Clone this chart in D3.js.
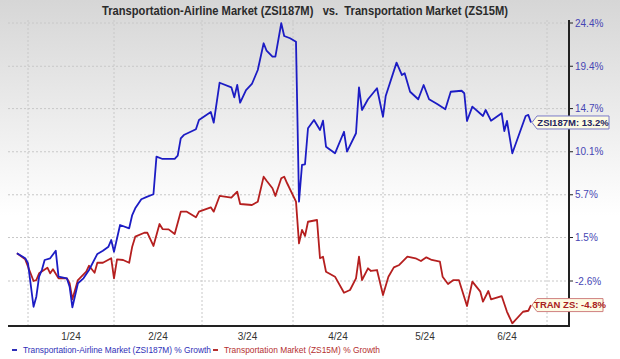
<!DOCTYPE html>
<html>
<head>
<meta charset="utf-8">
<title>Transportation-Airline vs Transportation</title>
<script src="https://cdn.jsdelivr.net/npm/d3@7"></script>
<style>
  body { margin: 0; background: #fff; }
  text { font-family: "Liberation Sans", Arial, sans-serif; }
</style>
</head>
<body>
<div id="chart"></div>
<script>
// % growth
var airlineSeries = [
  ["2023-12-28", 0.0], ["2023-12-31", -0.48], ["2024-01-01", -0.95], ["2024-01-03", -4.95],
  ["2024-01-04", -4.04], ["2024-01-05", -2.20], ["2024-01-06", -1.58], ["2024-01-07", -0.64],
  ["2024-01-09", -0.48], ["2024-01-11", 0.24], ["2024-01-12", -2.20], ["2024-01-15", -2.35],
  ["2024-01-16", -3.13], ["2024-01-17", -5.00], ["2024-01-19", -2.81], ["2024-01-21", -2.35],
  ["2024-01-23", -1.58], ["2024-01-26", -0.07], ["2024-01-28", 0.24], ["2024-01-30", 0.62],
  ["2024-01-31", 1.26], ["2024-02-01", 0.14], ["2024-02-03", 2.71], ["2024-02-06", 2.39],
  ["2024-02-07", 3.69], ["2024-02-08", 4.35], ["2024-02-10", 5.25], ["2024-02-12", 5.51],
  ["2024-02-14", 5.75], ["2024-02-15", 9.59], ["2024-02-17", 9.35], ["2024-02-21", 9.35],
  ["2024-02-22", 9.69], ["2024-02-23", 11.51], ["2024-02-24", 11.86], ["2024-02-28", 12.47],
  ["2024-02-29", 13.47], ["2024-03-04", 14.33], ["2024-03-05", 13.18], ["2024-03-07", 17.55],
  ["2024-03-11", 17.04], ["2024-03-12", 15.94], ["2024-03-13", 17.30], ["2024-03-14", 15.34],
  ["2024-03-16", 16.74], ["2024-03-18", 17.41], ["2024-03-20", 18.98], ["2024-03-22", 22.03],
  ["2024-03-23", 21.17], ["2024-03-25", 20.49], ["2024-03-26", 20.49], ["2024-03-28", 24.37],
  ["2024-03-29", 22.88], ["2024-03-31", 22.61], ["2024-04-02", 22.21], ["2024-04-03", 5.01],
  ["2024-04-04", 8.73], ["2024-04-05", 8.80], ["2024-04-06", 12.58], ["2024-04-08", 13.47],
  ["2024-04-10", 12.40], ["2024-04-11", 13.39], ["2024-04-12", 10.63], ["2024-04-15", 9.94],
  ["2024-04-18", 12.21], ["2024-04-19", 10.11], ["2024-04-22", 12.05], ["2024-04-23", 17.04],
  ["2024-04-24", 14.55], ["2024-04-26", 15.72], ["2024-04-29", 16.93], ["2024-05-01", 13.82],
  ["2024-05-02", 16.08], ["2024-05-06", 19.81], ["2024-05-08", 18.41], ["2024-05-09", 18.61],
  ["2024-05-11", 16.55], ["2024-05-14", 15.72], ["2024-05-16", 17.30], ["2024-05-18", 15.72],
  ["2024-05-21", 15.20], ["2024-05-24", 14.62], ["2024-05-26", 16.55], ["2024-05-30", 16.66],
  ["2024-05-31", 16.38], ["2024-06-01", 13.36], ["2024-06-03", 14.91], ["2024-06-07", 13.90],
  ["2024-06-08", 14.55], ["2024-06-10", 13.39], ["2024-06-14", 14.19], ["2024-06-15", 12.29],
  ["2024-06-16", 13.36], ["2024-06-18", 9.94], ["2024-06-23", 13.90], ["2024-06-24", 14.01],
  ["2024-06-25", 13.2]
];

var transportSeries = [
  ["2023-12-28", 0.0], ["2023-12-31", -0.58], ["2024-01-03", -2.60], ["2024-01-04", -2.51],
  ["2024-01-05", -1.89], ["2024-01-08", -1.36], ["2024-01-09", -1.89], ["2024-01-10", -1.51],
  ["2024-01-12", -2.35], ["2024-01-15", -2.35], ["2024-01-16", -2.81], ["2024-01-17", -4.28],
  ["2024-01-19", -2.51], ["2024-01-22", -1.74], ["2024-01-23", -1.18], ["2024-01-25", -1.83],
  ["2024-01-26", -0.90], ["2024-01-28", -0.90], ["2024-01-31", -0.48], ["2024-02-01", -2.35],
  ["2024-02-02", -0.58], ["2024-02-04", -0.64], ["2024-02-06", -0.90], ["2024-02-07", 0.62],
  ["2024-02-08", 1.58], ["2024-02-11", 1.96], ["2024-02-12", 1.96], ["2024-02-14", 0.69],
  ["2024-02-16", 2.81], ["2024-02-17", 2.32], ["2024-02-19", 2.29], ["2024-02-21", 1.84],
  ["2024-02-23", 4.02], ["2024-02-25", 4.02], ["2024-02-28", 3.46], ["2024-02-29", 4.02],
  ["2024-03-04", 4.45], ["2024-03-05", 4.02], ["2024-03-07", 5.58], ["2024-03-11", 5.41],
  ["2024-03-13", 6.01], ["2024-03-14", 4.78], ["2024-03-18", 4.68], ["2024-03-20", 5.01],
  ["2024-03-22", 7.53], ["2024-03-23", 7.12], ["2024-03-25", 6.35], ["2024-03-26", 5.58],
  ["2024-03-28", 7.36], ["2024-03-29", 7.53], ["2024-03-30", 6.86], ["2024-04-02", 5.01],
  ["2024-04-03", 0.94], ["2024-04-04", 2.23], ["2024-04-05", 1.65], ["2024-04-06", 3.03],
  ["2024-04-09", 3.20], ["2024-04-10", -0.48], ["2024-04-11", -0.33], ["2024-04-12", -1.74],
  ["2024-04-15", -2.20], ["2024-04-18", -3.68], ["2024-04-20", -3.43], ["2024-04-22", -2.35],
  ["2024-04-23", -0.33], ["2024-04-24", -2.51], ["2024-04-26", -1.42], ["2024-04-27", -1.67],
  ["2024-04-29", -1.58], ["2024-05-01", -3.89], ["2024-05-03", -2.20], ["2024-05-05", -1.33],
  ["2024-05-07", -1.11], ["2024-05-10", -0.33], ["2024-05-13", -0.48], ["2024-05-15", -0.74],
  ["2024-05-17", -0.39], ["2024-05-19", -0.64], ["2024-05-22", -0.80], ["2024-05-23", -2.20],
  ["2024-05-25", -2.88], ["2024-05-27", -2.51], ["2024-05-29", -2.51], ["2024-06-01", -4.88],
  ["2024-06-03", -2.66], ["2024-06-06", -3.58], ["2024-06-07", -4.49], ["2024-06-09", -3.52],
  ["2024-06-10", -4.28], ["2024-06-14", -3.98], ["2024-06-16", -5.40], ["2024-06-18", -6.43],
  ["2024-06-22", -5.40], ["2024-06-24", -5.31], ["2024-06-25", -4.8]
];

var yTickValues = [24.4, 19.4, 14.7, 10.1, 5.7, 1.5, -2.6];
var yTickLabels = ["24.4%", "19.4%", "14.7%", "10.1%", "5.7%", "1.5%", "-2.6%"];
var monthStarts = ["2024-01-01", "2024-02-01", "2024-03-01", "2024-04-01", "2024-05-01", "2024-06-01", "2024-07-01"];
var monthLabels = ["1/24", "2/24", "3/24", "4/24", "5/24", "6/24"];
var seriesNames = ["Transportation-Airline Market (ZSI187M) % Growth", "Transportation Market (ZS15M) % Growth"];
var calloutLabels = ["ZSI187M: 13.2%", "TRAN ZS: -4.8%"];

var width = 620,
    height = 359,
    plotTop = 20,
    plotBottom = 326,
    plotLeft = 8,
    axisX = 569;

var parse = d3.timeParse("%Y-%m-%d");

var svg = d3.select("#chart").append("svg")
    .attr("width", width)
    .attr("height", height);

// grey fade at the top
var grad = svg.append("defs").append("linearGradient")
    .attr("id", "bg").attr("x1", 0).attr("y1", 0).attr("x2", 0).attr("y2", 1);
grad.append("stop").attr("offset", "0%").attr("stop-color", "#d6d6d6");
grad.append("stop").attr("offset", "60%").attr("stop-color", "#ffffff");
svg.append("rect").attr("width", width).attr("height", height).attr("fill", "url(#bg)");

// the chart axis is log of (1 + growth)
var y = d3.scaleLog()
    .domain([1 + yTickValues[6] / 100, 1 + yTickValues[0] / 100])
    .range([281, 23]);
function yv(v) { return y(1 + v / 100); }

// month widths in the original are uneven, so map each month start
var x = d3.scaleTime()
    .domain(monthStarts.map(parse))
    .range([28, 114, 202, 293, 383, 467, 547]);

// grid
svg.append("g").selectAll("line")
    .data(yTickValues).enter().append("line")
    .attr("x1", plotLeft).attr("x2", axisX)
    .attr("y1", function(d) { return yv(d); })
    .attr("y2", function(d) { return yv(d); })
    .attr("stroke", "#c8c8c8")
    .attr("stroke-dasharray", "2,2");

svg.append("g").selectAll("line")
    .data(monthStarts).enter().append("line")
    .attr("x1", function(d) { return x(parse(d)); })
    .attr("x2", function(d) { return x(parse(d)); })
    .attr("y1", plotTop).attr("y2", plotBottom)
    .attr("stroke", "#c8c8c8")
    .attr("stroke-dasharray", "2,2");

// lines
var line = d3.line()
    .x(function(d) { return x(parse(d[0])); })
    .y(function(d) { return yv(d[1]); });

svg.append("path").datum(transportSeries)
    .attr("d", line)
    .attr("fill", "none")
    .attr("stroke", "#b51f1f")
    .attr("stroke-width", 1.8)
    .attr("stroke-linejoin", "round");

svg.append("path").datum(airlineSeries)
    .attr("d", line)
    .attr("fill", "none")
    .attr("stroke", "#1c1cc4")
    .attr("stroke-width", 1.8)
    .attr("stroke-linejoin", "round");

// axes frame
svg.append("line")
    .attr("x1", plotLeft).attr("x2", axisX + 1)
    .attr("y1", plotBottom).attr("y2", plotBottom)
    .attr("stroke", "#222").attr("stroke-width", 2);
svg.append("line")
    .attr("x1", axisX).attr("x2", axisX)
    .attr("y1", plotTop).attr("y2", plotBottom)
    .attr("stroke", "#222").attr("stroke-width", 2);

// right axis ticks + labels
var yt = svg.append("g").selectAll("g")
    .data(yTickValues).enter().append("g")
    .attr("transform", function(d) { return "translate(" + axisX + "," + yv(d) + ")"; });
yt.append("line").attr("x1", 0).attr("x2", 4).attr("stroke", "#222");
yt.append("text")
    .attr("x", 6).attr("dy", "0.35em")
    .attr("font-size", 10)
    .attr("fill", "#4646b4")
    .text(function(d, i) { return yTickLabels[i]; });

// month labels, centred in each month
svg.append("g").selectAll("text")
    .data(monthLabels).enter().append("text")
    .attr("x", function(d, i) { return (x(parse(monthStarts[i])) + x(parse(monthStarts[i + 1]))) / 2; })
    .attr("y", 340)
    .attr("text-anchor", "middle")
    .attr("font-size", 10)
    .attr("fill", "#333")
    .text(function(d) { return d; });

// title
svg.append("text")
    .attr("x", 102).attr("y", 15)
    .attr("font-size", 12.5)
    .attr("font-weight", "bold")
    .attr("fill", "#2b2b2b")
    .attr("textLength", 406)
    .attr("lengthAdjust", "spacingAndGlyphs")
    .style("white-space", "pre")
    .text("Transportation-Airline Market (ZSI187M)   vs.  Transportation Market (ZS15M)");

// legend
var legend = [
  {x: 12, w: 188, color: "#2f2fb8"},
  {x: 213, w: 156, color: "#b53030"}
];
legend.forEach(function(l, i) {
  svg.append("rect")
    .attr("x", l.x).attr("y", 349).attr("width", 5).attr("height", 2)
    .attr("fill", l.color);
  svg.append("text")
    .attr("x", l.x + 11).attr("y", 353)
    .attr("font-size", 9)
    .attr("fill", l.color)
    .attr("textLength", l.w)
    .attr("lengthAdjust", "spacingAndGlyphs")
    .text(seriesNames[i]);
});

// end-of-line callouts
function callout(series, label, stroke, textColor, boxW) {
  var last = series[series.length - 1],
      px = x(parse(last[0])) + 1,
      py = yv(last[1]),
      h = 13,
      left = px + 5,
      g = svg.append("g");
  g.append("path")
    .attr("d", "M" + px + "," + py +
               "L" + left + "," + (py - h / 2) +
               "L" + (left + boxW) + "," + (py - h / 2) +
               "L" + (left + boxW) + "," + (py + h / 2) +
               "L" + left + "," + (py + h / 2) + "Z")
    .attr("fill", "#fdfbe3")
    .attr("stroke", stroke)
    .attr("stroke-width", 1);
  g.append("text")
    .attr("x", left + boxW / 2).attr("y", py)
    .attr("dy", "0.35em")
    .attr("text-anchor", "middle")
    .attr("font-size", 9.5)
    .attr("font-weight", "bold")
    .attr("fill", textColor)
    .text(label);
}
callout(airlineSeries, calloutLabels[0], "#7a7ac8", "#24245e", 72);
callout(transportSeries, calloutLabels[1], "#d08080", "#a82020", 66);
</script>
</body>
</html>
